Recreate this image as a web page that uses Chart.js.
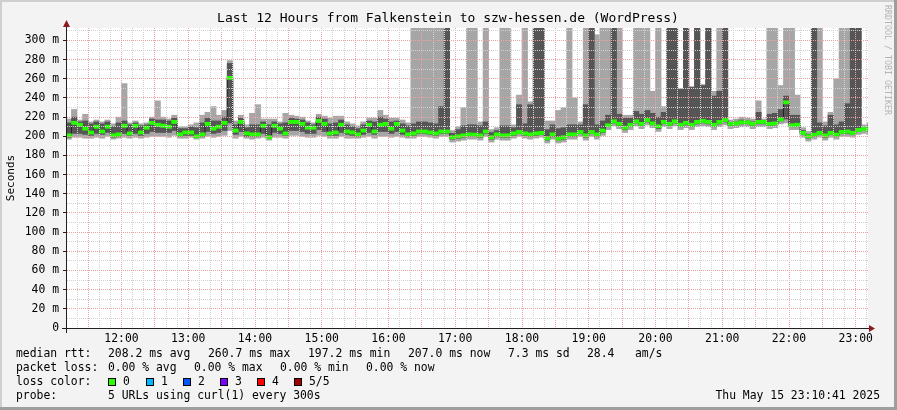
<!DOCTYPE html>
<html><head><meta charset="utf-8">
<script src="https://cdn.jsdelivr.net/npm/chart.js@4.4.1/dist/chart.umd.min.js"></script>
<style>html,body{margin:0;padding:0;background:#f3f3f3;}canvas{display:block}</style>
</head><body>
<div style="width:897px;height:410px;position:relative"><canvas id="c" width="897" height="410"></canvas></div>
<script>
// ---- time steps (5-minute RRD steps, minutes of day) ----
const firstStepMinute = 670;   // 11:10
const stepMinutes = 5;
const axisStartMinute = 671;   // 11:10:41
const axisEndMinute = 1391;    // 23:10:41

// ---- smoke: sorted ping results per step (ms) ----
const minRtt = [197,199,199,198,198,199,198,200,197,198,199,198,199,198,199,200,200,200,199,201,
198,198,199,197,198,200,199,200,201,206,198,200,198,197,198,199,196,199,199,198,
201,201,200,199,199,201,200,198,198,200,198,198,198,199,200,198,200,200,199,200,
199,198,198,200,200,199,198,200,200,194,195,196,197,197,196,200,194,197,196,196,
198,200,198,197,198,199,193,197,193,194,197,197,200,196,200,197,201,207,211,208,
204,207,211,208,212,209,205,210,208,211,207,209,207,210,211,210,207,210,212,208,
209,210,210,208,210,210,208,209,213,214,207,207,199,195,197,199,196,199,197,200,
200,199,202,203,202];
const lowRtt = [199,203,203,202,201,203,202,204,199,200,203,201,203,201,203,205,204,204,204,206,
200,201,201,199,200,205,203,204,206,214,202,205,200,200,200,203,198,204,203,201,
206,206,205,203,203,207,205,201,201,204,202,201,200,202,204,202,205,205,203,205,
202,200,201,203,203,202,201,203,203,197,198,199,200,200,199,203,197,200,199,199,
201,203,201,200,201,202,196,200,196,197,200,200,203,199,203,200,204,210,214,211,
207,210,214,211,215,212,208,213,211,214,210,212,210,213,214,213,210,213,215,211,
212,213,213,211,213,213,211,212,216,218,210,210,202,198,200,202,199,202,200,203,
203,202,205,206,205];
const medianRtt = [201,214,212,208,204,210,205,210,201,202,211,203,211,204,209,214,212,211,210,215,
202,204,204,200,202,213,208,210,214,261,206,215,203,202,202,211,199,211,208,203,
215,215,213,209,209,216,213,203,204,212,205,204,202,206,212,205,212,213,208,213,
206,202,203,205,205,204,203,205,205,199,200,201,202,201.7,201,205,199,202,201,201,
203,204.5,203,202,203,203.5,198,202,197.5,199,202,202,204.5,201,204.5,202,206,211.5,215.6,213,
209,212,215.6,213,217,213.5,210.4,215,213,215.6,212,214,212,215,216,215,212,215,217,213,
213.5,214.6,214.6,213,215,215,213,213.5,217.7,235.4,211.5,212,203.5,200,201.7,203.5,201,203.5,201.7,204.5,
205,203.5,206.6,207.6,207];
const highRtt = [214,220,215,216,213,215,213,215,210,214,216,212,214,211,212,218,217,217,216,219,
208,208,210,209,214,219,216,216,220,276,212,219,209,212,212,215,212,215,213,214,
219,218,217,214,212,220,218,213,214,217,212,210,208,212,216,215,220,218,215,216,
213,211,213,215,215,214,213,231,400,203,207,211,212,212,211,215,204,206,211,211,
209,233,213,233,400,400,207,212,208,209,212,212,212,233,400,212,216,222,400,223,
219,219,226,223,227,224,220,225,400,400,249,400,251,400,253,400,242,247,400,214,
215,217,216,215,225,215,223,224,228,242,222,222,206,202,400,214,211,222,212,215,
234,400,400,209,211];
const maxRtt = [218,228,217,223,215,217,215,217,213,220,255,214,216,213,214,220,237,220,218,222,
210,210,212,214,222,225,231,222,227,279,216,222,212,224,233,218,218,218,215,224,
222,221,220,216,214,223,221,219,221,221,215,213,211,215,219,219,227,222,219,219,
217,214,400,400,400,400,400,400,400,206,210,230,400,400,215,400,207,209,400,400,
212,243,400,236,400,400,216,216,227,230,400,240,215,400,400,306,400,400,400,400,
222,222,400,400,400,247,400,231,400,400,250,400,252,400,254,400,247,400,400,217,
218,220,219,218,237,218,400,400,253,400,400,243,209,205,400,400,215,225,260,400,
400,400,400,212,214];

// ---- axis ticks ----
const yTickValues = [0,10,20,30,40,50,60,70,80,90,100,110,120,130,140,150,160,170,180,190,200,210,220,230,240,250,260,270,280,290,300,310];
const hourLabels = ['12:00','13:00','14:00','15:00','16:00','17:00','18:00','19:00','20:00','21:00','22:00','23:00'];

// ---- legend text ----
const legendRows = [
  [[16,'median rtt:'],[108,'208.2 ms avg'],[208,'260.7 ms max'],[308,'197.2 ms min'],[408,'207.0 ms now'],[508,'7.3 ms sd'],[587,'28.4'],[635,'am/s']],
  [[16,'packet loss:'],[108,'0.00 % avg'],[194,'0.00 % max'],[280,'0.00 % min'],[366,'0.00 % now']],
  [[16,'loss color:']],
  [[16,'probe:'],[108,'5 URLs using curl(1) every 300s']]
];
const lossLabels = ['0','1','2','3','4','5/5'];
const lossColors = ['#26ff00','#00b8ff','#0059ff','#7e00ff','#ff0000','#a10000'];
const lossBoxX = [108,146,183,220,257,294];
const dateStamp = 'Thu May 15 23:10:41 2025';

const stepCenters = medianRtt.map((_, i) => firstStepMinute + stepMinutes * i + stepMinutes / 2);
const stepEdges = medianRtt.map((_, i) => firstStepMinute + stepMinutes * i);
const xGridTicks = [];
for (let m = 680; m <= 1390; m += 10) xGridTicks.push(m);

const MONO = '"DejaVu Sans Mono", monospace';
const PX_PER_MS = 300 / 313;

const frame = {
  id: 'frame',
  beforeDraw(chart) {
    const c = chart.ctx, a = chart.chartArea;
    c.save();
    c.fillStyle = '#f3f3f3'; c.fillRect(0, 0, 897, 410);
    c.fillStyle = '#cfcfcf'; c.fillRect(0, 0, 897, 2); c.fillRect(0, 0, 2, 410);
    c.fillStyle = '#9e9e9e'; c.fillRect(0, 407, 897, 3); c.fillRect(894, 0, 3, 410);
    c.fillStyle = '#ffffff'; c.fillRect(a.left, a.top, a.right - a.left, a.bottom - a.top);
    c.restore();
  },
  afterDraw(chart) {
    const c = chart.ctx;
    c.save();
    // axes
    c.strokeStyle = '#202020'; c.lineWidth = 1;
    c.beginPath(); c.moveTo(62, 328.5); c.lineTo(870, 328.5); c.stroke();
    c.beginPath(); c.moveTo(66.5, 333); c.lineTo(66.5, 25); c.stroke();
    c.fillStyle = '#8b1a1a';
    c.beginPath(); c.moveTo(869, 325); c.lineTo(875, 328.5); c.lineTo(869, 332); c.closePath(); c.fill();
    c.beginPath(); c.moveTo(63, 27); c.lineTo(66.5, 20); c.lineTo(70, 27); c.closePath(); c.fill();
    // title
    c.fillStyle = '#000';
    c.font = '13px ' + MONO; c.textAlign = 'center'; c.textBaseline = 'middle';
    c.fillText('Last 12 Hours from Falkenstein to szw-hessen.de (WordPress)', 448, 19);
    // y title
    c.save(); c.translate(11, 178); c.rotate(-Math.PI / 2);
    c.font = '11px ' + MONO; c.fillText('Seconds', 0, 0); c.restore();
    // watermark
    c.save(); c.translate(887.5, 60); c.rotate(Math.PI / 2);
    c.fillStyle = '#b4b4b4'; c.font = '8.3px ' + MONO; c.fillText('RRDTOOL / TOBI OETIKER', 0, 0); c.restore();
    // legend
    c.font = '11.4px ' + MONO; c.textAlign = 'left'; c.textBaseline = 'middle'; c.fillStyle = '#000';
    const rowY = [354, 368, 382, 396];
    legendRows.forEach((row, r) => row.forEach(([x, t]) => c.fillText(t, x, rowY[r])));
    lossLabels.forEach((lab, i) => {
      const x = lossBoxX[i];
      c.fillStyle = lossColors[i]; c.fillRect(x, 378, 8, 8);
      c.strokeStyle = '#000'; c.strokeRect(x + 0.5, 378.5, 7, 7);
      c.fillStyle = '#000'; c.fillText(lab, x + 15, 382);
    });
    c.textAlign = 'right'; c.fillText(dateStamp, 880, 396);
    c.restore();
  }
};

new Chart(document.getElementById('c'), {
  type: 'line',
  data: {
    datasets: [
      {
        type: 'bar', label: 'smoke outer', order: 3, grouped: false,
        data: stepCenters.map((x, i) => ({ x, y: [minRtt[i], maxRtt[i]] })),
        backgroundColor: '#a6a6a6', borderWidth: 0, barPercentage: 1, categoryPercentage: 1
      },
      {
        type: 'bar', label: 'smoke inner', order: 2, grouped: false,
        data: stepCenters.map((x, i) => ({ x, y: [lowRtt[i], highRtt[i]] })),
        backgroundColor: '#555555', borderWidth: 0, barPercentage: 1, categoryPercentage: 1
      },
      {
        type: 'line', label: 'median', order: 1,
        data: stepEdges.map((x, i) => ({ x, y: medianRtt[i] })).concat([{ x: firstStepMinute + stepMinutes * medianRtt.length, y: medianRtt[medianRtt.length - 1] }]),
        borderColor: '#202020', borderWidth: 1, pointRadius: 0, stepped: 'before', fill: false
      },
      {
        type: 'bar', label: 'median loss 0', order: 0, grouped: false,
        data: stepCenters.map((x, i) => ({ x, y: [medianRtt[i] - 1.6 / PX_PER_MS, medianRtt[i] + 1.6 / PX_PER_MS] })),
        backgroundColor: '#26ff00', borderWidth: 0, barPercentage: 1, categoryPercentage: 1
      }
    ]
  },
  options: {
    responsive: false, animation: false, devicePixelRatio: 1,
    layout: { padding: { left: 0, top: 28, right: 29, bottom: 0 } },
    plugins: { legend: { display: false }, tooltip: { enabled: false }, title: { display: false } },
    scales: {
      x: {
        type: 'linear', min: axisStartMinute, max: axisEndMinute, offset: false,
        afterBuildTicks: s => { s.ticks = xGridTicks.map(v => ({ value: v })); },
        afterFit: s => { s.height = 82; },
        grid: {
          offset: false, z: 1, drawTicks: false, lineWidth: 1,
          color: ctx => (ctx.tick && ctx.tick.value % 30 === 0) ? '#eda3a3' : '#d2d2d2'
        },
        border: { display: false, dash: [1, 1] },
        ticks: {
          autoSkip: false, maxRotation: 0, minRotation: 0, padding: 4, color: '#000',
          font: { family: 'DejaVu Sans Mono', size: 11.4 },
          callback: v => (v % 60 === 0) ? hourLabels[v / 60 - 12] : ''
        }
      },
      y: {
        type: 'linear', min: 0, max: 313,
        afterBuildTicks: s => { s.ticks = yTickValues.map(v => ({ value: v })); },
        afterFit: s => { s.width = 67; },
        grid: {
          z: 1, drawTicks: true, tickLength: 4, lineWidth: 1,
          color: ctx => (ctx.tick && ctx.tick.value % 20 === 0) ? '#eda3a3' : '#d2d2d2',
          tickColor: ctx => (ctx.tick && ctx.tick.value % 20 === 0) ? '#202020' : 'rgba(0,0,0,0)',
          tickBorderDash: []
        },
        border: { display: false, dash: [1, 1] },
        ticks: {
          autoSkip: false, padding: 4, color: '#000',
          font: { family: 'DejaVu Sans Mono', size: 11.4 },
          callback: v => (v % 20 === 0) ? (v === 0 ? '0' : v + ' m') : ''
        }
      }
    }
  },
  plugins: [frame]
});
</script>
</body></html>
